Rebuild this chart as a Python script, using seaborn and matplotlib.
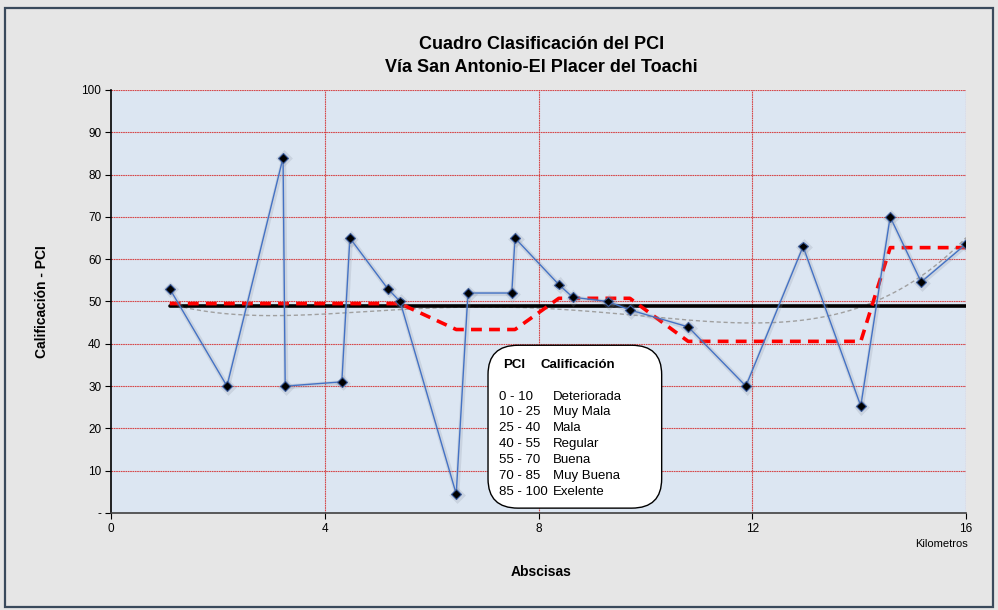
import numpy as np
import pandas as pd
import matplotlib
matplotlib.use("Agg")
import matplotlib.pyplot as plt
import matplotlib.patheffects as pe
from matplotlib.patches import FancyBboxPatch, Rectangle
from matplotlib import font_manager
import seaborn as sns

# Kilometre chainage and PCI rating of each surveyed sample unit
abscisa_km = [1.10, 2.17, 3.22, 3.26, 4.32, 4.47, 5.18, 5.41, 6.46, 6.68, 7.50, 7.56,
              8.38, 8.64, 9.30, 9.71, 10.80, 11.88, 12.95, 14.03, 14.58, 15.16, 16.00]
pci = [53, 30, 84, 30, 31, 65, 53, 50, 4.5, 52, 52, 65,
       54, 51, 50, 48, 44, 30, 63, 25.3, 70, 54.6, 63.6]
# homogeneous sections (index of first and last sample unit)
tramos = [(0, 7), (8, 11), (12, 15), (16, 19), (20, 22)]

y_ticks = [0, 10, 20, 30, 40, 50, 60, 70, 80, 90, 100]
y_labels = ["-", "10", "20", "30", "40", "50", "60", "70", "80", "90", "100"]
x_ticks = [0, 4, 8, 12, 16]

escala = [("0 - 10", "Deteriorada"), ("10 - 25", "Muy Mala"), ("25 - 40", "Mala"),
          ("40 - 55", "Regular"), ("55 - 70", "Buena"), ("70 - 85", "Muy Buena"),
          ("85 - 100", "Exelente")]

df = pd.DataFrame({"km": abscisa_km, "pci": pci})

sns.set_theme(style="white")
plt.rcParams["font.family"] = ["Liberation Sans", "DejaVu Sans"]
for k in ["text.color", "axes.labelcolor", "xtick.color", "ytick.color"]:
    plt.rcParams[k] = "black"

disponibles = {f.name for f in font_manager.fontManager.ttflist}
fuente_titulo = ["Liberation Sans Narrow", "Liberation Sans", "DejaVu Sans"] \
    if "Liberation Sans Narrow" in disponibles else ["Liberation Sans", "DejaVu Sans"]
tam_titulo = 14.5 if "Liberation Sans Narrow" in disponibles else 13

fig = plt.figure(figsize=(9.98, 6.10), dpi=100, facecolor="#E6E6E6")
ax = fig.add_axes([0.1112, 0.159, 0.8568, 0.6935])
ax.set_facecolor("#DCE6F2")

# outer frame of the chart area
fig.patches.append(Rectangle((0.005, 0.005), 0.99, 0.982, transform=fig.transFigure,
                             fill=False, edgecolor="#3A4A5C", linewidth=1.6))

# grid
for yv in y_ticks[1:]:
    ax.axhline(yv, color="#D42A2A", lw=0.8, ls=(0, (1.5, 0.6)), alpha=0.85, zorder=1)
for xv in x_ticks[1:]:
    ax.axvline(xv, color="#D42A2A", lw=0.8, ls=(0, (1.5, 0.6)), alpha=0.85, zorder=1)

# polynomial trend
coef = np.polyfit(abscisa_km, pci, 4)
xt = np.linspace(min(abscisa_km), max(abscisa_km), 200)
ax.plot(xt, np.polyval(coef, xt), color="#A0A0A0", lw=1.0, ls=(0, (3, 2)), zorder=2)

# overall mean
media = float(np.mean(pci))
ax.plot([abscisa_km[0], abscisa_km[-1]], [media, media], color="black", lw=2.6, zorder=3)

# section means
sx, sy = [], []
for a, b in tramos:
    m = float(np.mean(pci[a:b + 1]))
    sx += [abscisa_km[a], abscisa_km[b]]
    sy += [m, m]
ax.plot(sx, sy, color="#FF0000", lw=2.6, ls=(0, (3, 2)), zorder=4)

# PCI per sample unit
sombra = [pe.SimpleLineShadow(offset=(0.5, -0.5), shadow_color="#8A93A0", alpha=0.22,
                              linewidth=3.5), pe.Normal()]
sns.lineplot(data=df, x="km", y="pci", ax=ax, sort=False, color="#4472C4", lw=1.0,
             marker="D", markersize=5, markerfacecolor="black",
             markeredgecolor="#3A5A9A", markeredgewidth=0.8, zorder=5,
             path_effects=sombra)

ax.set_xlim(0, 16)
ax.set_ylim(0, 100)
ax.set_xticks(x_ticks)
ax.set_xticklabels([str(v) for v in x_ticks], fontsize=8.5)
ax.set_yticks(y_ticks)
ax.set_yticklabels(y_labels, fontsize=8.5)
ax.tick_params(axis="both", direction="out", length=4, width=0.8, color="black",
               left=True, bottom=True, pad=3)
for s in ["top", "right"]:
    ax.spines[s].set_visible(False)
ax.spines["left"].set_color("black")
ax.spines["left"].set_linewidth(1.2)
ax.spines["bottom"].set_color("#404040")
ax.spines["bottom"].set_linewidth(1.2)

ax.set_xlabel("")
ax.set_ylabel("Calificación - PCI", fontsize=10, fontweight="bold", labelpad=23)
fig.text(0.5426, 0.062, "Abscisas", ha="center", va="center", fontsize=10, fontweight="bold")
fig.text(0.9695, 0.108, "Kilometros", ha="right", va="center", fontsize=8)

fig.text(0.5426, 0.927, "Cuadro Clasificación del PCI", ha="center", va="center",
         fontsize=tam_titulo, fontweight="bold", family=fuente_titulo)
fig.text(0.5426, 0.889, "Vía San Antonio-El Placer del Toachi", ha="center", va="center",
         fontsize=tam_titulo, fontweight="bold", family=fuente_titulo)

# rating scale box
box = FancyBboxPatch((0.489, 0.167), 0.174, 0.267, transform=fig.transFigure,
                     boxstyle="round,pad=0,rounding_size=0.03", facecolor="white",
                     edgecolor="black", linewidth=1.0, zorder=6, mutation_aspect=1.6)
fig.patches.append(box)
fig.text(0.504, 0.401, "PCI", fontsize=9.5, fontweight="bold", va="center", zorder=7)
fig.text(0.542, 0.401, "Calificación", fontsize=9.5, fontweight="bold", va="center", zorder=7)
for i, (rango, nombre) in enumerate(escala):
    yy = 0.350 - i * 0.0262
    fig.text(0.500, yy, rango, fontsize=9.5, va="center", zorder=7)
    fig.text(0.554, yy, nombre, fontsize=9.5, va="center", zorder=7)

fig.savefig("out.png", dpi=100, facecolor=fig.get_facecolor())
